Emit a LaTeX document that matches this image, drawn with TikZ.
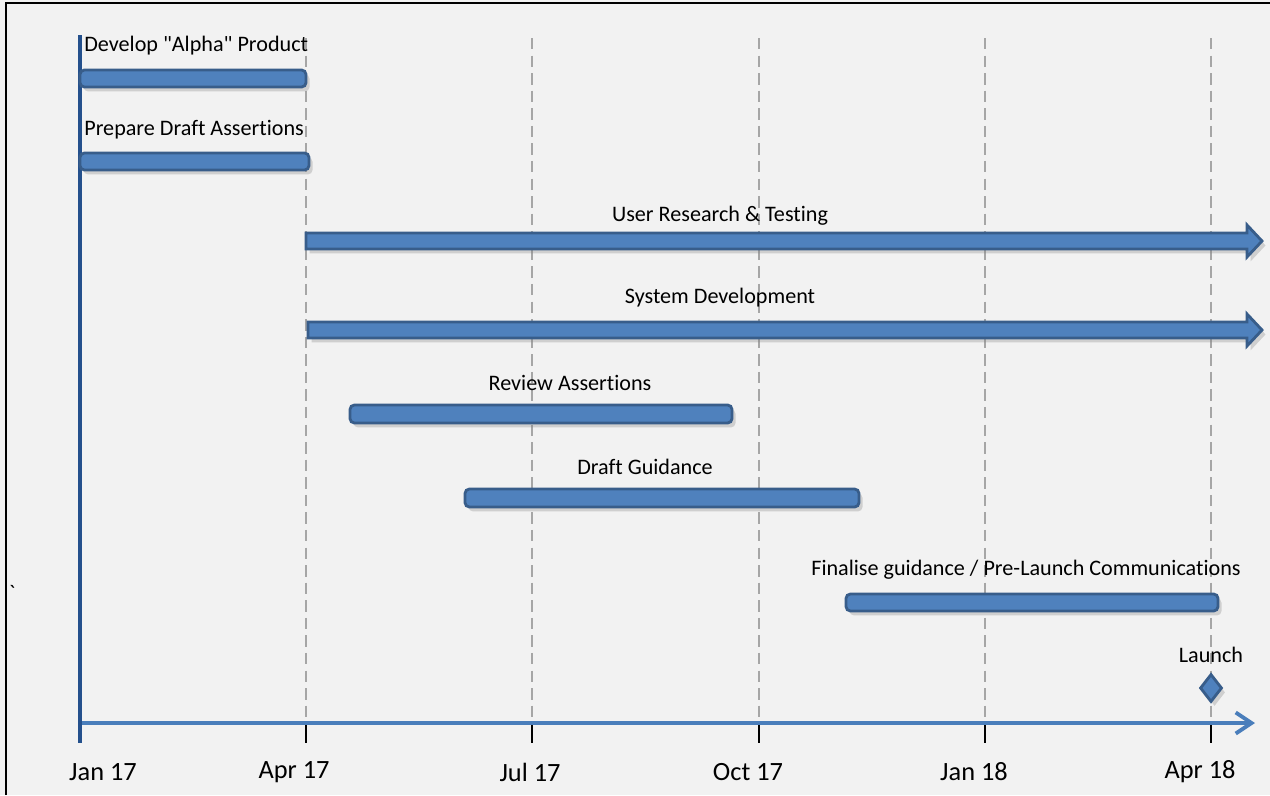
\documentclass[tikz,border=0pt]{standalone}
\usepackage{fontspec}
\setmainfont{Carlito}[Ligatures={TeXOff,NoCommon}]
\usetikzlibrary{shadows,shapes.geometric,arrows.meta}
\definecolor{bg}{HTML}{F2F2F2}
\definecolor{barfill}{HTML}{4F81BD}
\definecolor{bardraw}{HTML}{385D8A}
\definecolor{axisblue}{HTML}{4A7EBB}
\definecolor{darkaxis}{HTML}{24508C}
\definecolor{gridgray}{HTML}{A6A6A6}
\begin{document}
\begin{tikzpicture}[x=0.02cm, y=-0.02cm, >=latex,
  bar/.style={fill=barfill, draw=bardraw, line width=1.6pt, rounded corners=2.5pt,
    drop shadow={shadow xshift=2pt, shadow yshift=-2.5pt, opacity=.3}},
  arrowbar/.style={fill=barfill, draw=bardraw, line width=1.6pt, line join=miter,
    drop shadow={shadow xshift=2pt, shadow yshift=-2.5pt, opacity=.3}},
  lbl/.style={font=\fontsize{12.6}{14}\selectfont, inner sep=0pt},
  datelbl/.style={font=\fontsize{15}{17}\selectfont, inner sep=0pt}]
\useasboundingbox (0,0) rectangle (1270,795);
\fill[bg] (0,0) rectangle (1270,795);
\draw[line width=1.3pt] (6,795) -- (6,3) -- (1270,3);
% grid and ticks
\foreach \x in {306,532,759,985,1211}
{
    \draw[gridgray, line width=1.2pt, dash pattern=on 6.5pt off 3.5pt] (\x,38) -- (\x,718);
    \draw[line width=1pt] (\x,725) -- (\x,743);
}
\draw[axisblue, line width=2.4pt, -{Straight Barb[length=9pt, width=12pt, line width=2.2pt]}] (80,723) -- (1255,723);
\draw[darkaxis, line width=2pt] (80,35) -- (80,743);
\foreach \x/\d/\n in {103/Jan 17/jan17, 294/Apr 17/apr17, 530/Jul 17/jul17, 748/Oct 17/oct17, 974/Jan 18/jan18, 1200/Apr 18/apr18}
{
    \node[datelbl] (\n) at (\x,772) {\d};
}
% tasks
\draw[bar] (80,70) rectangle (306,87);
\node[lbl, anchor=west] (alpha) at (84,46) {Develop "Alpha" Product};
\draw[bar] (80,153) rectangle (309,170);
\node[lbl, anchor=west] (prepare) at (84,130) {Prepare Draft Assertions};
\draw[arrowbar] (306,233) -- (1247,233) -- (1247,225) -- (1262,241) -- (1247,257) -- (1247,249) -- (306,249) -- cycle;
\node[lbl] (research) at (720,216) {User Research \& Testing};
\draw[arrowbar] (308,322) -- (1247,322) -- (1247,314) -- (1262,330) -- (1247,346) -- (1247,338) -- (308,338) -- cycle;
\node[lbl] (system) at (720,298) {System Development};
\draw[bar] (350,405) rectangle (732,423);
\node[lbl] (review) at (570,383) {Review Assertions};
\draw[bar] (465,489) rectangle (859,507);
\node[lbl] (guidance) at (645,467) {Draft Guidance};
\draw[bar] (846,594) rectangle (1218,611);
\node[lbl] (finalise) at (1026,570) {Finalise guidance / Pre-Launch Communications};
\node[lbl] (launch) at (1211,655) {Launch};
\node[diamond, fill=barfill, draw=bardraw, line width=1.6pt, minimum width=0.44cm, minimum height=0.56cm, inner sep=0pt,
  drop shadow={shadow xshift=2pt, shadow yshift=-2.5pt, opacity=.3}] (launchmark) at (1211,688) {};
\node[lbl] (tick) at (12,593) {`};
\end{tikzpicture}
\end{document}
